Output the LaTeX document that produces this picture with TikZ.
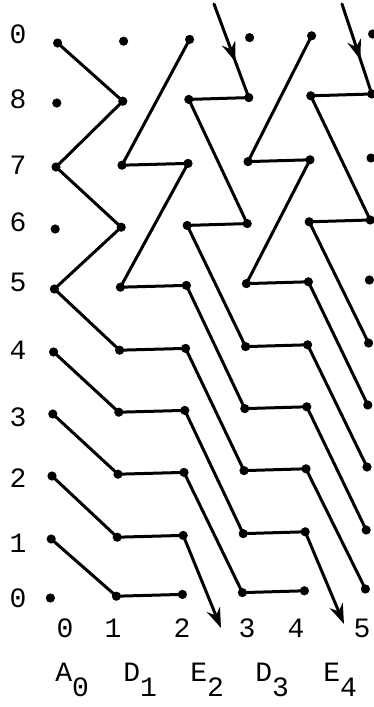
\documentclass[tikz,border=0pt]{standalone}
\usepackage{fontspec}
\setmonofont{Liberation Mono}
\usetikzlibrary{arrows.meta,decorations.markings}

\tikzset{
  dot/.style={fill=black},
  link/.style={line width=1.5pt, line cap=round, line join=round},
  midarrow/.style={link, decoration={markings,
      mark=at position 0.62 with {\arrow{Stealth[length=10pt,width=7pt]}}},
    postaction={decorate}},
  endarrow/.style={link, -{Stealth[length=10pt,width=7pt]}},
  lab/.style={font=\ttfamily\fontsize{14}{16}\selectfont, inner sep=0pt},
}

\begin{document}
\begin{tikzpicture}[x=0.5pt,y=-0.5pt]
  \useasboundingbox (0,0) rectangle (374,707);
  %
  % grid points, column i, row j (top to bottom)
  \foreach \cx [count=\i from 0] in {54,120,186,246,308,369}
    \foreach \ry [count=\j from 0] in {43,103,167,229,289,352,414,476,539,598}
      \coordinate (p-\i-\j) at ({\cx+0.8*(4.5-\j)},{\ry-1.8*\i});
  %
  % A0 -- D1 -- E2
  \draw[link] (p-0-0) -- (p-1-1) -- (p-0-2) -- (p-1-3) -- (p-0-4) -- (p-1-5) -- (p-2-5);
  \foreach \j in {5,...,8}{
    \pgfmathtruncatemacro\k{\j+1}
    \draw[link] (p-0-\j) -- (p-1-\k) -- (p-2-\k);
  }
  \draw[link] (p-2-0) -- (p-1-2) -- (p-2-2) -- (p-1-4) -- (p-2-4);
  %
  % E2 -- D3 -- E4
  \draw[link] (p-3-1) -- (p-2-1) -- (p-3-3) -- (p-2-3);
  \foreach \j in {3,...,7}{
    \pgfmathtruncatemacro\k{\j+2}
    \draw[link] (p-2-\j) -- (p-3-\k) -- (p-4-\k);
  }
  \draw[link] (p-4-0) -- (p-3-2) -- (p-4-2) -- (p-3-4) -- (p-4-4);
  \draw[link] (p-5-1) -- (p-4-1) -- (p-5-3) -- (p-4-3) -- (p-5-5);
  \foreach \j in {4,...,7}{
    \pgfmathtruncatemacro\k{\j+2}
    \draw[link] (p-4-\j) -- (p-5-\k);
  }
  %
  % arrows in and out
  \coordinate (in-1) at (214,4);
  \coordinate (in-2) at (342,4);
  \coordinate (out-1) at (221,628);
  \coordinate (out-2) at (344,624);
  \draw[midarrow] (in-1) -- (p-3-1);
  \draw[midarrow] (in-2) -- (p-5-1);
  \draw[endarrow] (p-2-8) -- (out-1);
  \draw[endarrow] (p-4-8) -- (out-2);
  %
  \foreach \i in {0,...,5}
    \foreach \j in {0,...,9}
      \fill[dot] (p-\i-\j) circle[radius=2.3pt];
  %
  % labels
  \foreach \t/\y [count=\j from 0] in {0/34,8/99,7/165,6/222,5/282,4/350,3/417,2/478,1/543,0/598}
    \node[lab] (row-\j) at (18,\y) {\t};
  \foreach \t/\x in {0/65,1/113,2/182,3/247,4/296,5/362}
    \node[lab] (col-\t) at (\x,628) {\t};
  \foreach \t/\s/\x [count=\i from 0] in {A/0/55,D/1/123,E/2/190,D/3/255,E/4/323}
    \node[lab, anchor=west] (name-\i) at (\x,680) {\t\raisebox{-7.5pt}{\s}};
\end{tikzpicture}
\end{document}
